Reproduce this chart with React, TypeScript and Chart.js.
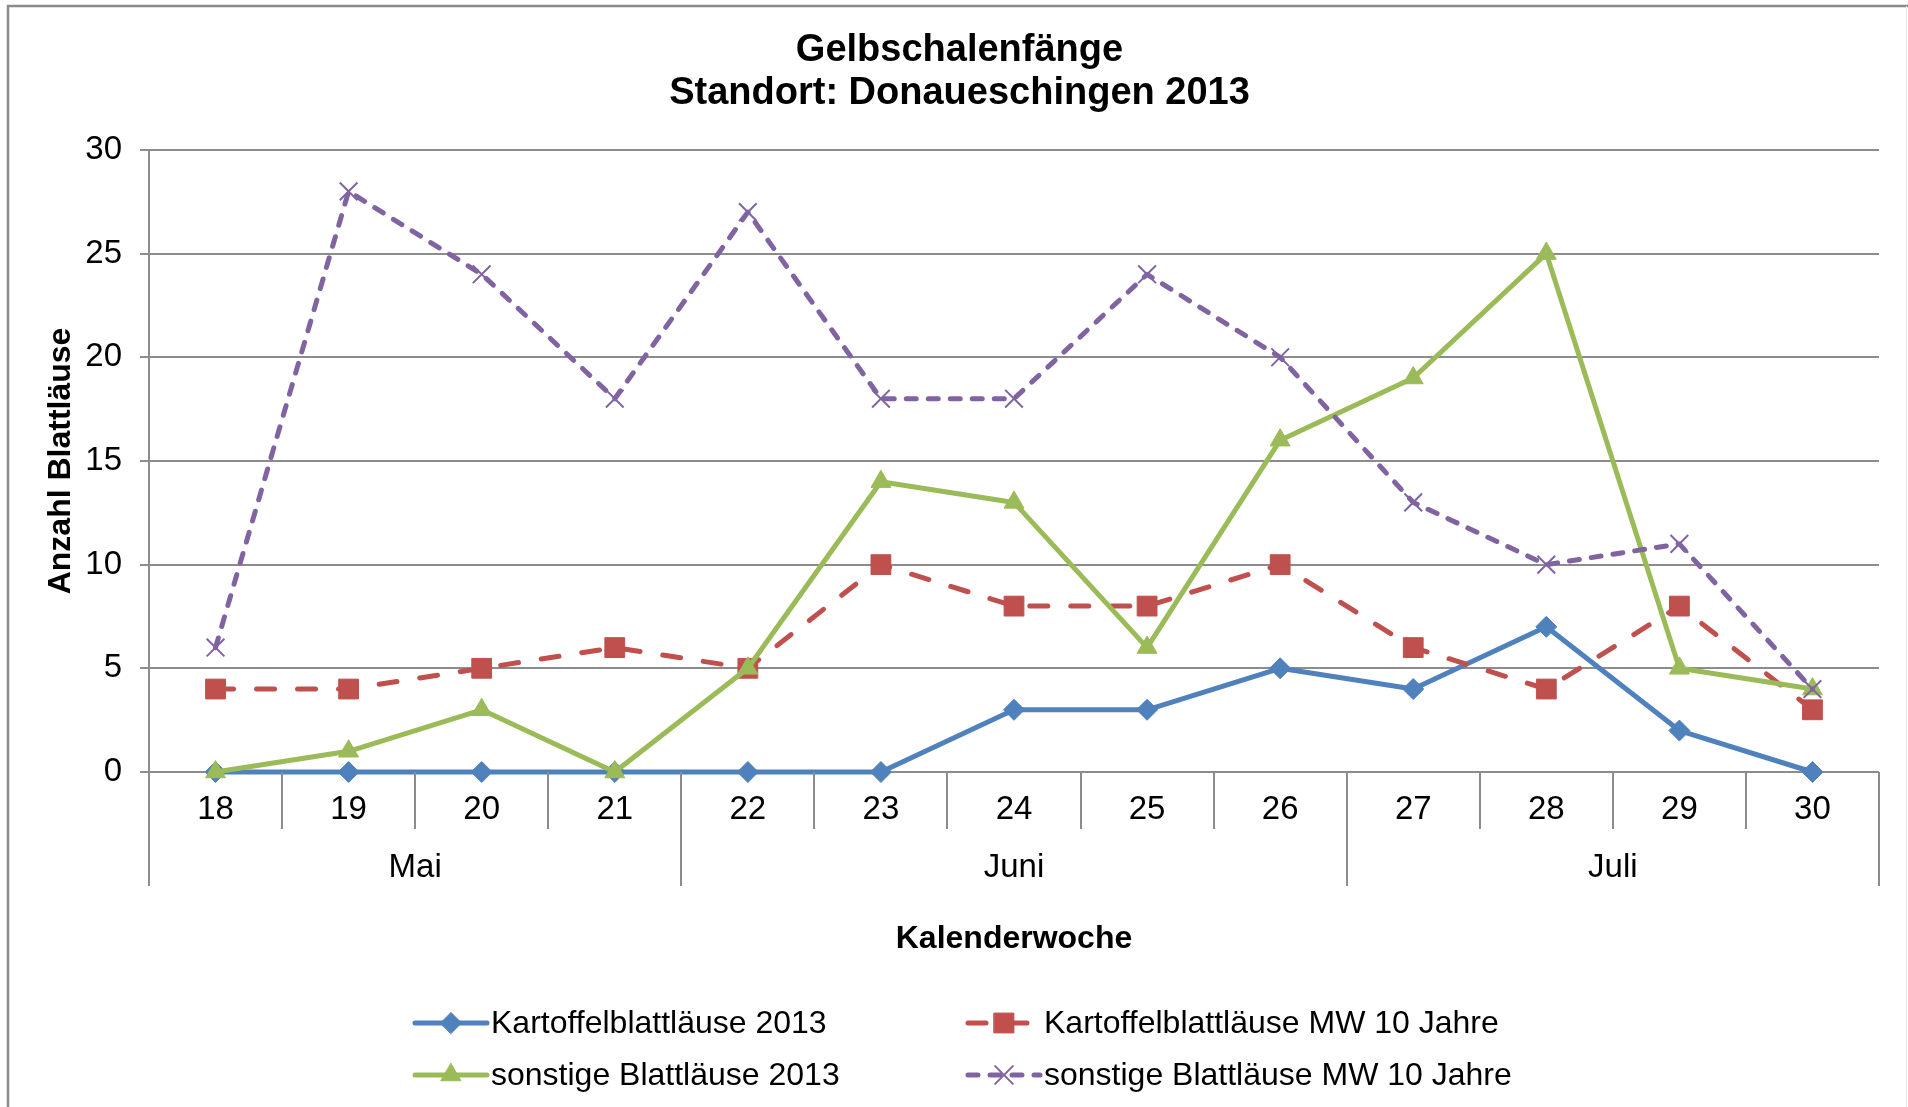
import React, { useEffect, useRef } from "react";
import { Chart, registerables } from "chart.js";

Chart.register(...registerables);

// ---------- data ----------
const weeks = ["18", "19", "20", "21", "22", "23", "24", "25", "26", "27", "28", "29", "30"];
const monthNames = ["Mai", "Juni", "Juli"];
const monthSpans = [4, 5, 4];
const kartoffel2013 = [0, 0, 0, 0, 0, 0, 3, 3, 5, 4, 7, 2, 0];
const kartoffelMW = [4, 4, 5, 6, 5, 10, 8, 8, 10, 6, 4, 8, 3];
const sonstige2013 = [0, 1, 3, 0, 5, 14, 13, 6, 16, 19, 25, 5, 4];
const sonstigeMW = [6, 28, 24, 18, 27, 18, 18, 24, 20, 13, 10, 11, 4];
const seriesNames = [
  "Kartoffelblattläuse 2013",
  "Kartoffelblattläuse MW 10 Jahre",
  "sonstige Blattläuse 2013",
  "sonstige Blattläuse MW 10 Jahre",
];
const titleLines = ["Gelbschalenfänge", "Standort: Donaueschingen 2013"];
const yAxisTitle = "Anzahl Blattläuse";
const xAxisTitle = "Kalenderwoche";
const yMin = 0;
const yMax = 30;
const yStep = 5;

// ---------- style ----------
const FONT = '"Liberation Sans", Arial, Helvetica, sans-serif';
const GRID = "#8c8c8c";
const BLUE = "#4F81BD";
const RED = "#C0504D";
const GREEN = "#9BBB59";
const PURPLE = "#8064A2";

function drawMarker(ctx: CanvasRenderingContext2D, style: string, x: number, y: number, r: number, color: string, bw: number) {
  ctx.save();
  ctx.setLineDash([]);
  ctx.fillStyle = color;
  ctx.strokeStyle = color;
  ctx.lineWidth = bw;
  ctx.beginPath();
  if (style === "rectRot") {
    ctx.moveTo(x - r, y);
    ctx.lineTo(x, y - r);
    ctx.lineTo(x + r, y);
    ctx.lineTo(x, y + r);
    ctx.closePath();
    ctx.fill();
    ctx.stroke();
  } else if (style === "rect") {
    const s = r * Math.SQRT1_2;
    ctx.rect(x - s, y - s, 2 * s, 2 * s);
    ctx.fill();
    ctx.stroke();
  } else if (style === "triangle") {
    const edge = (3 * r) / Math.sqrt(3);
    const h = (edge * Math.sqrt(3)) / 2;
    ctx.moveTo(x - edge / 2, y + h / 3);
    ctx.lineTo(x + edge / 2, y + h / 3);
    ctx.lineTo(x, y - (2 * h) / 3);
    ctx.closePath();
    ctx.fill();
    ctx.stroke();
  } else if (style === "crossRot") {
    const o = r * Math.SQRT1_2;
    ctx.moveTo(x - o, y - o);
    ctx.lineTo(x + o, y + o);
    ctx.moveTo(x - o, y + o);
    ctx.lineTo(x + o, y - o);
    ctx.stroke();
  }
  ctx.restore();
}

const framePlugin = {
  id: "frame",
  beforeDraw(chart: any) {
    const ctx = chart.ctx;
    ctx.save();
    ctx.fillStyle = "#ffffff";
    ctx.fillRect(0, 0, chart.width, chart.height);
    ctx.strokeStyle = "#8a8a8a";
    ctx.lineWidth = 2.5;
    ctx.beginPath();
    ctx.moveTo(8, chart.height + 5);
    ctx.lineTo(8, 6);
    ctx.lineTo(chart.width + 5, 6);
    ctx.stroke();
    ctx.strokeStyle = "#e6e6e6";
    ctx.lineWidth = 1;
    ctx.beginPath();
    ctx.moveTo(chart.width - 1.5, 6);
    ctx.lineTo(chart.width - 1.5, chart.height);
    ctx.stroke();
    ctx.restore();
  },
};

const multiLevelAxisPlugin = {
  id: "multiLevelAxis",
  afterDraw(chart: any) {
    const x = chart.scales.x;
    const ctx = chart.ctx;
    const top = chart.chartArea.bottom;
    const groupEnds: number[] = [0];
    monthSpans.reduce((acc, n) => {
      groupEnds.push(acc + n);
      return acc + n;
    }, 0);
    ctx.save();
    ctx.strokeStyle = GRID;
    ctx.lineWidth = 2;
    for (let i = 0; i <= weeks.length; i++) {
      const px = Math.round(x.getPixelForValue(i - 0.5));
      const isGroup = groupEnds.includes(i);
      ctx.beginPath();
      ctx.moveTo(px, top);
      ctx.lineTo(px, top + (isGroup ? 114 : 57));
      ctx.stroke();
    }
    ctx.fillStyle = "#000";
    ctx.font = `33px ${FONT}`;
    ctx.textAlign = "center";
    ctx.textBaseline = "middle";
    weeks.forEach((w, i) => ctx.fillText(w, x.getPixelForValue(i), top + 38));
    for (let g = 0; g < monthNames.length; g++) {
      const a = x.getPixelForValue(groupEnds[g] - 0.5);
      const b = x.getPixelForValue(groupEnds[g + 1] - 0.5);
      ctx.fillText(monthNames[g], (a + b) / 2, top + 96);
    }
    ctx.restore();
  },
};

const legendPlugin = {
  id: "customLegend",
  afterDraw(chart: any) {
    const ctx = chart.ctx;
    const cols = [415, 968];
    const rows = [chart.height - 84, chart.height - 32];
    const lineLen = 72;
    ctx.save();
    chart.data.datasets.forEach((ds: any, i: number) => {
      const cx = cols[i % 2];
      const cy = rows[Math.floor(i / 2)];
      ctx.strokeStyle = ds.borderColor;
      ctx.lineWidth = ds.borderWidth;
      ctx.lineCap = ds.borderCapStyle || "butt";
      ctx.setLineDash(ds.borderDash || []);
      ctx.beginPath();
      ctx.moveTo(cx, cy);
      ctx.lineTo(cx + lineLen, cy);
      ctx.stroke();
      drawMarker(ctx, ds.pointStyle, cx + lineLen / 2, cy, ds.pointRadius, ds.pointBorderColor, ds.pointBorderWidth);
      ctx.setLineDash([]);
      ctx.fillStyle = "#000";
      ctx.font = `32px ${FONT}`;
      ctx.textAlign = "left";
      ctx.textBaseline = "middle";
      ctx.fillText(ds.label, cx + lineLen + 4, cy + 1);
    });
    ctx.restore();
  },
};

export default function App() {
  const canvasRef = useRef<HTMLCanvasElement | null>(null);

  useEffect(() => {
    const canvas = canvasRef.current;
    if (!canvas) return;
    const chart = new Chart(canvas, {
      type: "line",
      data: {
        labels: weeks,
        datasets: [
          {
            label: seriesNames[0],
            data: kartoffel2013,
            borderColor: BLUE,
            backgroundColor: BLUE,
            borderWidth: 5,
            borderCapStyle: "round",
            borderJoinStyle: "round",
            pointStyle: "rectRot",
            pointRadius: 10.5,
            pointBackgroundColor: BLUE,
            pointBorderColor: BLUE,
            pointBorderWidth: 1,
            order: 4,
            clip: false,
          },
          {
            label: seriesNames[1],
            data: kartoffelMW,
            borderColor: RED,
            backgroundColor: RED,
            borderWidth: 5,
            borderDash: [18, 23],
            borderCapStyle: "round",
            borderJoinStyle: "round",
            pointStyle: "rect",
            pointRadius: 14,
            pointBackgroundColor: RED,
            pointBorderColor: RED,
            pointBorderWidth: 1,
            order: 3,
            clip: false,
          },
          {
            label: seriesNames[2],
            data: sonstige2013,
            borderColor: GREEN,
            backgroundColor: GREEN,
            borderWidth: 5,
            borderCapStyle: "round",
            borderJoinStyle: "round",
            pointStyle: "triangle",
            pointRadius: 11.5,
            pointBackgroundColor: GREEN,
            pointBorderColor: GREEN,
            pointBorderWidth: 1,
            order: 2,
            clip: false,
          },
          {
            label: seriesNames[3],
            data: sonstigeMW,
            borderColor: PURPLE,
            backgroundColor: PURPLE,
            borderWidth: 5,
            borderDash: [10, 12],
            borderCapStyle: "round",
            borderJoinStyle: "round",
            pointStyle: "crossRot",
            pointRadius: 12.5,
            pointBackgroundColor: PURPLE,
            pointBorderColor: PURPLE,
            pointBorderWidth: 2,
            order: 1,
            clip: false,
          },
        ] as any,
      },
      options: {
        responsive: false,
        animation: false,
        devicePixelRatio: 1,
        layout: { padding: { left: 40, right: 29, top: 2, bottom: 149 } },
        plugins: {
          legend: { display: false },
          tooltip: { enabled: false },
          title: {
            display: true,
            text: titleLines,
            color: "#000",
            font: { family: FONT, size: 38, weight: "bold", lineHeight: 1.13 },
            padding: { top: 27.5, bottom: 34.5 },
          },
        },
        scales: {
          x: {
            type: "category",
            offset: true,
            ticks: { display: false },
            grid: { display: false },
            border: { display: false },
            title: {
              display: true,
              text: xAxisTitle,
              color: "#000",
              font: { family: FONT, size: 32, weight: "bold", lineHeight: 1.2 },
              padding: { top: 0, bottom: 0 },
            },
            afterFit: (s: any) => {
              s.height = 186;
            },
          },
          y: {
            min: yMin,
            max: yMax,
            ticks: {
              stepSize: yStep,
              color: "#000",
              font: { family: FONT, size: 33 },
              padding: 18,
            },
            grid: { color: GRID, lineWidth: 2, drawTicks: true, tickLength: 9, tickColor: GRID },
            border: { display: true, color: GRID, width: 2 },
            title: {
              display: true,
              text: yAxisTitle,
              color: "#000",
              font: { family: FONT, size: 32, weight: "bold", lineHeight: 1.2 },
              padding: { top: 2, bottom: 0 },
            },
            afterFit: (s: any) => {
              s.width = 109;
            },
          },
        },
      } as any,
      plugins: [framePlugin, multiLevelAxisPlugin, legendPlugin],
    });
    return () => chart.destroy();
  }, []);

  return (
    <div style={{ position: "absolute", left: 0, top: 0, width: 1908, height: 1107, overflow: "hidden" }}>
      <canvas ref={canvasRef} width={1908} height={1107} style={{ display: "block", width: 1908, height: 1107 }} />
    </div>
  );
}
